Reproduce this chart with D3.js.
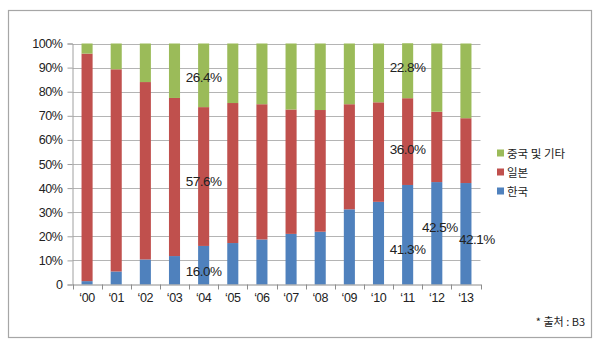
<!DOCTYPE html>
<html>
<head>
<meta charset="utf-8">
<script src="https://cdn.jsdelivr.net/npm/d3@7"></script>
<style>
  html, body { margin: 0; padding: 0; background: #fff; }
  svg { display: block; }
  text { font-family: "Noto Sans CJK KR", "Liberation Sans", sans-serif; fill: #222; }
</style>
</head>
<body>
<svg id="chart" width="600" height="348"></svg>
<script>
// Market share by year (%)
const years = ["‘00","‘01","‘02","‘03","‘04","‘05","‘06","‘07","‘08","‘09","‘10","‘11","‘12","‘13"];
const korea = [1.4, 5.4, 10.4, 11.8, 16.0, 17.2, 18.7, 21.0, 21.9, 31.2, 34.3, 41.3, 42.5, 42.1];
const japan = [94.4, 83.9, 73.6, 65.6, 57.6, 58.1, 56.1, 51.6, 50.5, 43.6, 41.3, 36.0, 29.2, 26.9];
const china = [4.2, 10.7, 16.0, 22.6, 26.4, 24.7, 25.2, 27.4, 27.6, 25.2, 24.4, 22.8, 28.3, 31.0];
const seriesNames = ["한국", "일본", "중국 및 기타"];
const seriesColors = ["#4f81bd", "#c0504d", "#9bbb59"];
const yTicks = [0, 10, 20, 30, 40, 50, 60, 70, 80, 90, 100];
const sourceNote = "* 출처 : B3";

// Value callouts: which bar and series carries a printed value
const callouts = [
  { year: "‘04", series: 2, dx: 0, dy: 2 },
  { year: "‘04", series: 1, dx: 0, dy: 5 },
  { year: "‘04", series: 0, dx: 0, dy: 6 },
  { year: "‘11", series: 2, dx: 0, dy: -3 },
  { year: "‘11", series: 1, dx: 0, dy: 8 },
  { year: "‘11", series: 0, dx: 0, dy: 15 },
  { year: "‘12", series: 0, dx: 3, dy: -6 },
  { year: "‘13", series: 0, dx: 11, dy: 6 }
];

const svg = d3.select("#chart");

// outer frame
svg.append("rect")
  .attr("x", 8.5).attr("y", 10.5)
  .attr("width", 583).attr("height", 327)
  .attr("fill", "#fff").attr("stroke", "#a6a6a6").attr("stroke-width", 1.2);

const plot = { left: 72.5, right: 480.5, top: 43.5, bottom: 284.5 };

const x = d3.scaleBand().domain(years).range([plot.left, plot.right]).paddingInner(0.62).paddingOuter(0.31);
const y = d3.scaleLinear().domain([0, 100]).range([plot.bottom, plot.top]);

const rows = years.map((yr, i) => ({ year: yr, s0: korea[i], s1: japan[i], s2: china[i] }));
const stacked = d3.stack().keys(["s0", "s1", "s2"])(rows);

// gridlines
svg.append("g").selectAll("line").data(yTicks.filter(t => t > 0)).join("line")
  .attr("x1", plot.left).attr("x2", plot.right)
  .attr("y1", d => Math.round(y(d)) + 0.5).attr("y2", d => Math.round(y(d)) + 0.5)
  .attr("stroke", "#b4b4b4").attr("stroke-width", 1);

// y axis
const yAxis = svg.append("g").attr("transform", `translate(${plot.left},0)`)
  .call(d3.axisLeft(y).tickValues(yTicks).tickSize(5).tickPadding(5)
    .tickFormat(d => d === 0 ? "0" : d + "%"));
yAxis.select(".domain").attr("stroke", "#a0a0a0");
yAxis.selectAll(".tick line").attr("stroke", "#a0a0a0");
yAxis.selectAll("text").attr("font-size", 12.5).attr("fill", "#222")
  .attr("letter-spacing", -0.4)
  .style("font-family", "'Liberation Sans', sans-serif");

// bars
svg.append("g").selectAll("g").data(stacked).join("g")
  .attr("fill", (d, i) => seriesColors[i])
  .selectAll("rect").data(d => d).join("rect")
  .attr("x", d => x(d.data.year))
  .attr("width", x.bandwidth())
  .attr("y", d => y(d[1]))
  .attr("height", d => y(d[0]) - y(d[1]));

// x axis
const step = x.step();
const xAxis = svg.append("g").attr("transform", `translate(0,${plot.bottom})`)
  .call(d3.axisBottom(x).tickSize(0).tickPadding(9));
xAxis.select(".domain").attr("stroke", "#8c8c8c");
xAxis.selectAll("text").attr("font-size", 12.5).attr("fill", "#222")
  .attr("letter-spacing", -0.4)
  .style("font-family", "'Liberation Sans', sans-serif");
xAxis.selectAll(".sep").data(d3.range(years.length + 1)).join("line")
  .attr("class", "sep")
  .attr("x1", i => Math.round(plot.left + i * step) + 0.5)
  .attr("x2", i => Math.round(plot.left + i * step) + 0.5)
  .attr("y1", 0).attr("y2", 5)
  .attr("stroke", "#8c8c8c");

// value callouts
const seriesValues = [korea, japan, china];
svg.append("g").selectAll("text").data(callouts).join("text")
  .attr("x", d => x(d.year) + x.bandwidth() / 2 + d.dx)
  .attr("y", d => {
    const seg = stacked[d.series][years.indexOf(d.year)];
    return y((seg[0] + seg[1]) / 2) + d.dy;
  })
  .attr("text-anchor", "middle")
  .attr("dominant-baseline", "central")
  .attr("font-size", 13.5)
  .attr("letter-spacing", -0.5)
  .style("font-family", "'Liberation Sans', sans-serif")
  .attr("fill", "#1a1a1a")
  .text(d => seriesValues[d.series][years.indexOf(d.year)].toFixed(1) + "%");

// legend (top to bottom: 중국 및 기타, 일본, 한국)
const legendOrder = [2, 1, 0];
const lg = svg.append("g").attr("transform", "translate(497,153)");
legendOrder.forEach((si, k) => {
  const row = lg.append("g").attr("transform", `translate(0,${k * 19})`);
  row.append("rect").attr("x", 0).attr("y", -3.5).attr("width", 7).attr("height", 7)
    .attr("fill", seriesColors[si]);
  row.append("text").attr("x", 10).attr("y", 0).attr("dominant-baseline", "central")
    .attr("font-size", 11.5).attr("fill", "#222").text(seriesNames[si]);
});

// source note
svg.append("text").attr("x", 585).attr("y", 326).attr("text-anchor", "end")
  .attr("font-size", 11).attr("fill", "#222").text(sourceNote);
</script>
</body>
</html>
